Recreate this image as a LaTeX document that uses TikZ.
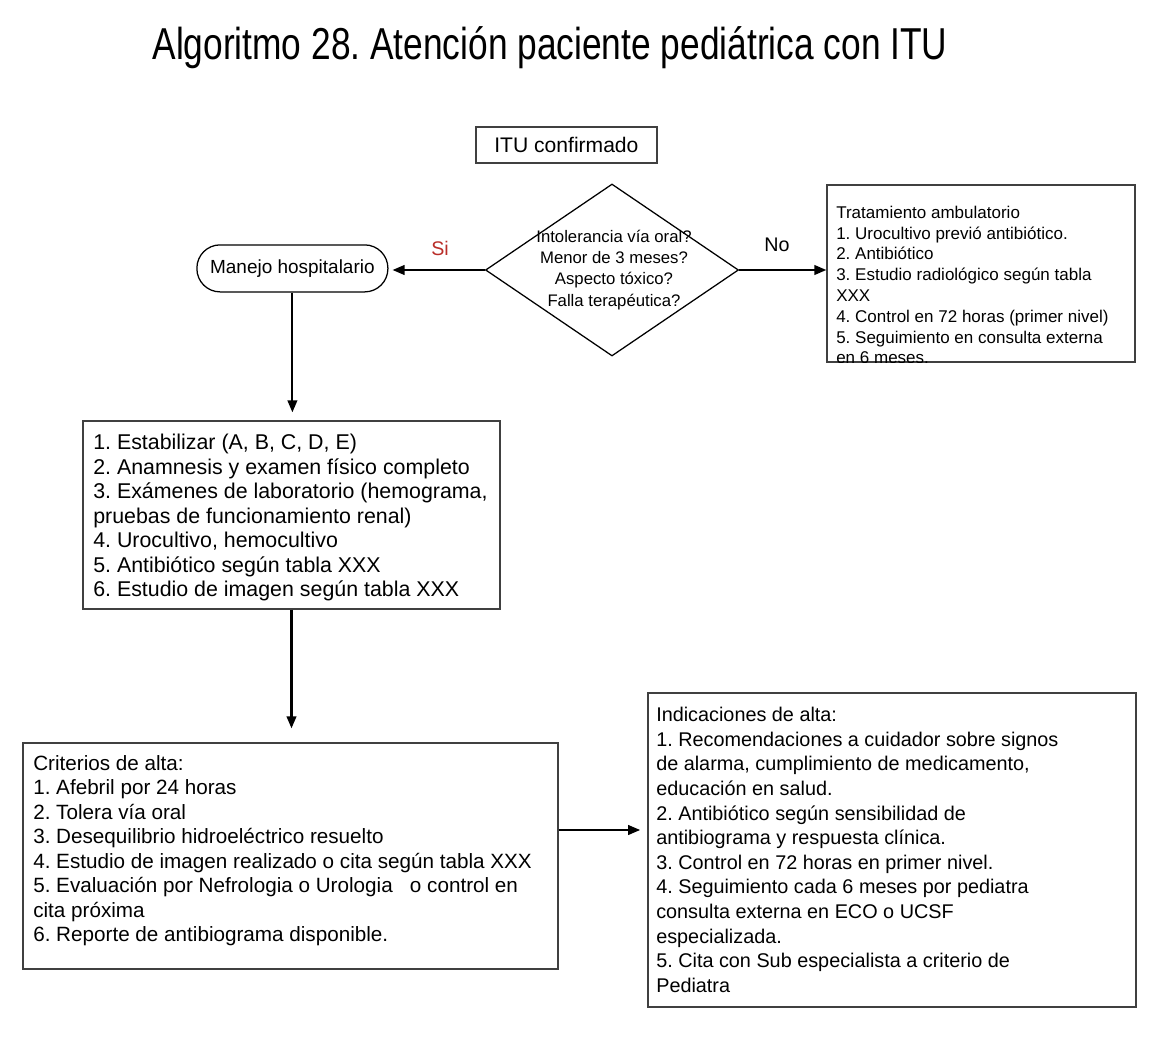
\documentclass[tikz,border=0pt]{standalone}
\usepackage{fontspec}
\setmainfont{Liberation Sans}
\newfontfamily\titlefont[FakeStretch=0.79]{Liberation Sans}
\usetikzlibrary{shapes.geometric,arrows.meta,calc}
\definecolor{sired}{RGB}{185,45,40}
\frenchspacing
\begin{document}
\begin{tikzpicture}[
  box/.style={draw=black!75,line width=0.9pt,inner sep=0pt},
  txt/.style={anchor=north west,align=left,inner sep=0pt},
  arr/.style={-{Triangle[length=0.3cm,width=0.24cm]},line width=1.5pt}]
\useasboundingbox (0,0) rectangle (28.85,-26.075);
\node[font=\titlefont\fontsize{31.8}{36}\selectfont,anchor=base] (title) at (13.75,-1.5) {Algoritmo 28. Atención paciente pediátrica con ITU};
% decision
\node[box,minimum width=4.525cm,minimum height=0.9cm,font=\fontsize{15}{18}\selectfont] (itu) at (14.16,-3.625) {ITU confirmado};
\node[box,draw=black,diamond,minimum width=6.325cm,minimum height=4.3cm] (decision) at (15.3,-6.75) {};
\node[align=center,inner sep=0pt,font=\fontsize{11.9}{15}\selectfont] (crit) at (15.35,-6.75) {Intolerancia vía oral?\\Menor de 3 meses?\\Aspecto tóxico?\\Falla terapéutica?};
\node[draw=black,line width=0.9pt,rounded corners=0.58cm,minimum width=4.775cm,minimum height=1.175cm,font=\fontsize{13.5}{16}\selectfont] (manejo) at (7.31,-6.71) {Manejo hospitalario};
\node[font=\fontsize{14}{16}\selectfont,text=sired] (si) at (11.0,-6.2) {Si};
\node[font=\fontsize{14}{16}\selectfont] (no) at (19.425,-6.125) {No};
% ambulatorio (last line cut by the frame)
\node[box,minimum width=7.7cm,minimum height=4.425cm] (amb) at (24.525,-6.8375) {};
\begin{scope}
\clip (amb.south west) rectangle (amb.north east);
\node[txt,font=\fontsize{12.1}{14.8}\selectfont] (ambtxt) at (20.9,-5.14) {Tratamiento ambulatorio\\1. Urocultivo previó antibiótico.\\2. Antibiótico\\3. Estudio radiológico según tabla\\XXX\\4. Control en 72 horas (primer nivel)\\5. Seguimiento en consulta externa\\en 6 meses.};
\end{scope}
% hospital
\node[box,minimum width=10.425cm,minimum height=4.7cm] (estab) at (7.2875,-12.875) {};
\node[txt,font=\fontsize{15.2}{17.4}\selectfont] (estabtxt) at (2.325,-10.85) {1. Estabilizar (A, B, C, D, E)\\2. Anamnesis y examen físico completo\\3. Exámenes de laboratorio (hemograma,\\pruebas de funcionamiento renal)\\4. Urocultivo, hemocultivo\\5. Antibiótico según tabla XXX\\6. Estudio de imagen según tabla XXX};
\node[box,minimum width=13.375cm,minimum height=5.65cm] (alta) at (7.2625,-21.4) {};
\node[txt,font=\fontsize{14.7}{17.4}\selectfont] (altatxt) at (0.825,-18.875) {Criterios de alta:\\1. Afebril por 24 horas\\2. Tolera vía oral\\3. Desequilibrio hidroeléctrico resuelto\\4. Estudio de imagen realizado o cita según tabla XXX\\5. Evaluación por Nefrologia o Urologia\ \ \ o control en\\cita próxima\\6. Reporte de antibiograma disponible.};
\node[box,minimum width=12.2cm,minimum height=7.85cm] (indic) at (22.3,-21.25) {};
\node[txt,font=\fontsize{14.1}{17.5}\selectfont] (indictxt) at (16.4,-17.675) {Indicaciones de alta:\\1. Recomendaciones a cuidador sobre signos\\de alarma, cumplimiento de medicamento,\\educación en salud.\\2. Antibiótico según sensibilidad de\\antibiograma y respuesta clínica.\\3. Control en 72 horas en primer nivel.\\4. Seguimiento cada 6 meses por pediatra\\consulta externa en ECO o UCSF\\especializada.\\5. Cita con Sub especialista a criterio de\\Pediatra};
% connectors
\draw[arr,shorten >=0.1cm] (decision.west) -- (decision.west -| manejo.east);
\draw[arr] (decision.east) -- (decision.east -| amb.west);
\draw[arr,shorten >=0.2cm] (manejo.south) -- (manejo.south |- estab.north);
\draw[arr,shorten >=0.35cm] (estab.south) -- (estab.south |- alta.north);
\draw[arr,shorten >=0.18cm] ([yshift=0.65cm]alta.east) -- ([yshift=0.65cm]alta.east -| indic.west);
\end{tikzpicture}
\end{document}
